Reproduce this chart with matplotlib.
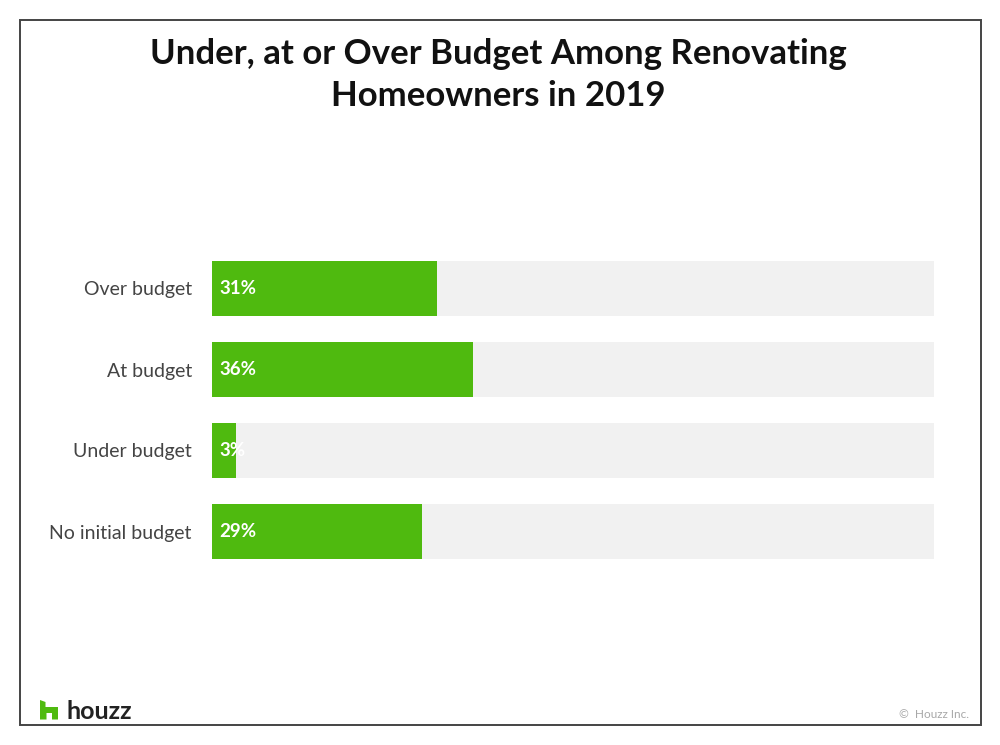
from matplotlib import pyplot as plt
from matplotlib.patches import Polygon, Rectangle

categories = ['Over budget', 'At budget', 'Under budget', 'No initial budget']
values = [31.1, 36.1, 3.3, 29.1]
labels = ['31%', '36%', '3%', '29%']
title = 'Under, at or Over Budget Among Renovating\nHomeowners in 2019'

GREEN = '#4fba0f'
W, H = 1000, 745


def px(x, y):
    return x / W, 1 - y / H


def main():
    plt.rcParams['font.family'] = ['Lato', 'DejaVu Sans']
    fig = plt.figure(figsize=(W / 100, H / 100), dpi=100)

    # outer frame
    fig.add_artist(Rectangle(px(19.5, 724.5), 961 / W, 705 / H, fill=False,
                             edgecolor='#444444', linewidth=1.4,
                             transform=fig.transFigure))

    # one row is 81 px, the axes spans 4 rows from 248 to 572
    x0, y0 = px(212, 572)
    ax = fig.add_axes([x0, y0, 722 / W, 324 / H])
    pos = list(range(len(categories)))
    ax.barh(pos, [100] * len(pos), height=0.68, color='#f1f1f1')
    ax.barh(pos, values, height=0.68, color=GREEN)
    ax.set_xlim(0, 100)
    ax.set_ylim(len(pos) - 0.5, -0.5)
    ax.set_yticks(pos, categories)
    ax.set_xticks([])
    ax.tick_params(axis='y', length=0, pad=14.5, labelsize=14, labelcolor='#444444')
    for s in ax.spines.values():
        s.set_visible(False)
    ax.patch.set_alpha(0)

    for i, lab in enumerate(labels):
        ax.annotate(lab, (0, i), xytext=(5.2, 0), textcoords='offset points',
                    color='white', fontsize=13.5, fontweight='bold', va='center')

    fig.text(0.498, 1 - 75 / H, title, ha='center', va='center', fontsize=25,
             fontweight='bold', color='#111111', linespacing=1.38)

    # houzz logo
    logo = [(40, 700), (45.5, 702), (45.5, 707), (58, 707), (58, 719.5), (52, 719.5),
            (52, 713), (46.5, 713), (46.5, 719.5), (40, 719.5)]
    fig.add_artist(Polygon([px(*p) for p in logo], closed=True, color=GREEN,
                           linewidth=0, transform=fig.transFigure))
    fig.text(*px(66, 719), 'houzz', fontsize=18, fontweight='bold',
             color='#222222', va='baseline')
    fig.text(*px(969, 718), '©  Houzz Inc.', fontsize=8.5, color='#a8a8a8',
             ha='right', va='baseline')

    fig.savefig('out.png', dpi=100)


if __name__ == "__main__":
    main()
